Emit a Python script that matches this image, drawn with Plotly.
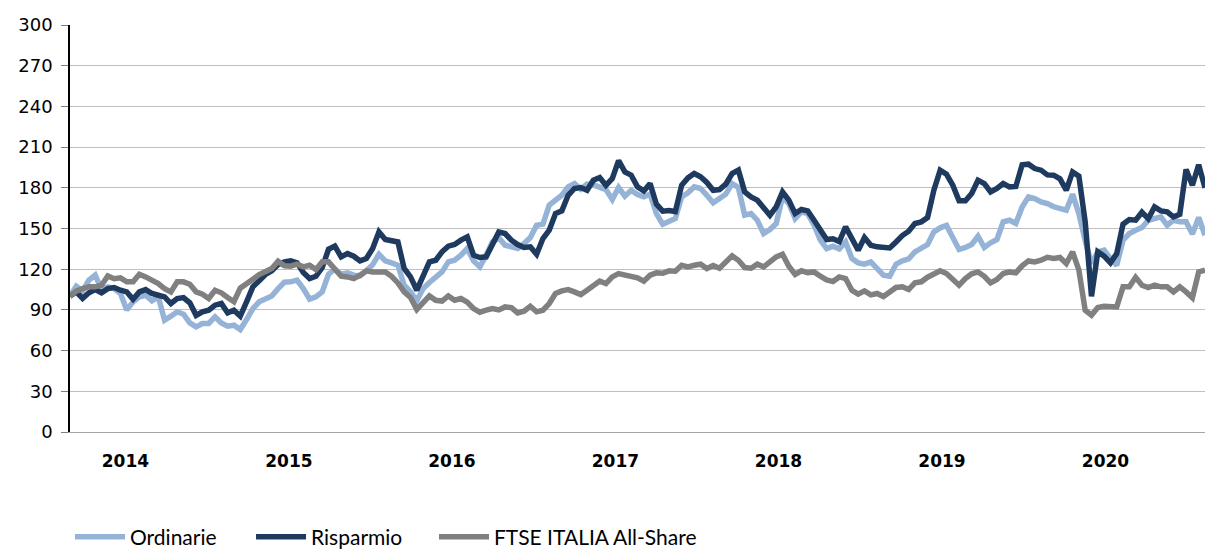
import pandas as pd
import plotly.graph_objects as go

# fortnightly observations, index base 100
dates = pd.date_range("2014-01-03", periods=181, freq="14D")

ordinarie = [
    100, 107.5, 104, 111.9, 115.6, 105, 107, 105.7, 102.1, 90,
    95.9, 99.6, 100.8, 96.7, 99.6, 82.4, 85.4, 88.6, 86.8, 80.4,
    77.5, 80, 80, 84.9, 80.4, 78, 78.7, 75.5, 82.9, 91,
    96, 98.4, 100.3, 105.7, 110.4, 110.7, 111.9, 105.7, 97.9, 99.6,
    103.3, 116.3, 120, 116.3, 117.3, 115.6, 115.1, 118.8, 123.4, 131,
    126.1, 124.7, 122.9, 108.2, 103.3, 96.7, 105.7, 110.2, 113.9, 118,
    125.4, 126.6, 130.3, 135.2, 126.1, 121.7, 130.3, 140.1, 143.3, 137.7,
    136.5, 135.2, 138.9, 143.3, 152.4, 153.2, 167.2, 170.9, 174.5, 180.7,
    183.1, 179, 182.7, 182.2, 180.7, 178.7, 171.4, 180.2, 173.8, 178.2,
    175, 173.3, 175.3, 161, 153.2, 155.1, 157.3, 173.3, 176.3, 180.7,
    179.5, 174.5, 168.9, 172.1, 175.3, 183.1, 180.2, 159.8, 161, 156.1,
    146.3, 149.2, 153.7, 173.3, 168.4, 157.3, 162.3, 161, 152.4, 141.4,
    135.2, 137, 135, 140.1, 127.9, 124.7, 123.7, 125.4, 120.5, 115.6,
    114.8, 123.7, 126.1, 127.6, 132.8, 136, 138.2, 147.5, 150.5, 152.2,
    143.8, 134.5, 136, 138.2, 144.3, 136, 139.4, 141.9, 154.9, 156.1,
    153.7, 165.9, 173.3, 172.1, 169.6, 168.4, 166, 164.7, 163.5, 175.3,
    161, 140.9, 124.2, 132.8, 134, 127.9, 122.9, 141.4, 146.3, 148.7,
    150.7, 156.1, 157.3, 158.6, 152.4, 156.1, 155, 155, 146, 158.1,
    145,
]

risparmio = [
    100, 103.3, 98.4, 102.6, 105, 102.6, 105.7, 106.5, 104.5, 103.3,
    97.9, 103.3, 105, 102.1, 100.8, 99.6, 94.7, 98.4, 99.1, 95.2,
    86, 88.6, 89.8, 93.5, 94.7, 87.8, 89.8, 85.4, 95.9, 107,
    111.5, 116.1, 118.8, 123.4, 125.4, 126.1, 124.7, 117.5, 113.1, 114.8,
    121.2, 134.7, 137, 129.1, 131.5, 129.6, 126.1, 127.9, 135.2, 147.5,
    141.9, 140.9, 140.1, 120.5, 114.3, 104.5, 116.3, 125.4, 126.6, 132.8,
    137, 138.2, 141.4, 143.8, 130.3, 128.6, 129.1, 137.7, 147.5, 146.3,
    141.4, 138.2, 136, 136.5, 131, 142.6, 148.7, 161, 163, 174.5,
    179.5, 180.2, 178.2, 185.6, 187.6, 181.9, 186.8, 200, 191.7, 189.3,
    180.7, 177.7, 183.1, 167.9, 162.8, 163.2, 162.5, 181.9, 187.3, 190.5,
    188.1, 183.9, 178.2, 178.7, 182.7, 190.5, 193, 177, 173.3, 170.9,
    165.9, 159.8, 166, 177, 170.9, 161, 164, 163, 156.1, 148.7,
    141.9, 142.4, 140.4, 151.2, 141.9, 134, 143.3, 137.7, 136.5, 136,
    135.7, 140.1, 144.8, 148, 153.7, 154.9, 158.1, 178.2, 193, 190,
    181.9, 170.4, 170.4, 175.8, 185.6, 183.1, 177, 179.5, 183.1, 180.7,
    181, 197, 197.4, 194.2, 193, 189.5, 189.3, 186.6, 178.2, 191.7,
    188.6, 154.9, 100, 132.8, 129.6, 124.7, 131.5, 153.2, 156.6, 156.1,
    162, 157.3, 165.9, 163, 162.3, 158.6, 160.5, 193.5, 181.9, 197,
    180,
]

ftse = [
    100, 103.8, 105.7, 107, 107, 108.2, 115, 113, 113.6, 110.7,
    110.7, 116.3, 114.3, 111.9, 109.4, 105.7, 103.3, 110.7, 110.7, 108.9,
    103.3, 101.6, 98.4, 104.5, 102.6, 99.1, 96, 106, 108.9, 112.6,
    116, 118.5, 120.5, 125.9, 122.5, 122.2, 123.7, 121.7, 122.9, 119.8,
    125.4, 125.4, 120.5, 114.8, 114.3, 113.1, 115.6, 118.8, 118, 118,
    118, 114.8, 109.9, 103.3, 99.1, 90.3, 95.9, 100.3, 97.1, 96.5,
    100.3, 97.1, 98.4, 95.7, 91, 88.3, 89.8, 91, 90, 92.2,
    91.7, 87.8, 89, 92.7, 88.6, 89.8, 94.7, 102.1, 104, 105,
    103.3, 101.3, 104.5, 108.2, 111.2, 109.4, 114.3, 116.8, 115.6, 114.3,
    113.6, 111.2, 115.6, 117.3, 117, 118.8, 118.5, 122.9, 121.7, 122.9,
    123.7, 120.5, 122.7, 120.7, 125.4, 129.8, 126.6, 121.2, 120.7, 123.7,
    121.7, 125.4, 129.1, 131, 122.2, 116.1, 118.8, 117.5, 118, 114.8,
    112.1, 110.9, 114.3, 113.1, 104.5, 101.6, 104, 101.1, 102.1, 99.9,
    102.8, 106.5, 107, 105, 109.9, 110.7, 114.1, 117, 118.8, 116.8,
    112.4, 108.2, 113.1, 116.6, 118, 114.8, 109.9, 112.4, 116.8, 118,
    117.3, 122.5, 126.1, 125.4, 126.6, 128.8, 127.9, 128.6, 124.2, 132.8,
    119.3, 89.8, 86.1, 91.7, 92.7, 92.7, 92.2, 107, 107, 114,
    108.2, 106.5, 108.2, 107, 107, 103.3, 107, 103.3, 99, 118,
    119.3,
]

year_ticks = ["2014-05-06", "2015-05-04", "2016-04-30", "2017-04-28",
              "2018-04-25", "2019-04-23", "2020-04-20"]
year_labels = ["2014", "2015", "2016", "2017", "2018", "2019", "2020"]
y_ticks = list(range(0, 301, 30))

series = [
    ("Ordinarie", ordinarie, "#95B3D7", "legend", 0.0),
    ("Risparmio", risparmio, "#1F3A5F", "legend2", 0.1595),
    ("FTSE ITALIA All-Share", ftse, "#808080", "legend3", 0.3207),
]

fig = go.Figure()
legend_cfg = {}
for name, vals, color, leg, lx in series:
    fig.add_trace(go.Scatter(x=dates, y=vals, name=name, mode="lines",
                             line=dict(color=color, width=5.5), legend=leg))
    legend_cfg[leg] = dict(orientation="h", x=lx, xanchor="left", y=-0.208,
                           yanchor="top", itemwidth=50,
                           font=dict(family="Lato", size=21, color="#000000"),
                           bgcolor="rgba(0,0,0,0)")

fig.update_layout(
    width=1205, height=552,
    margin=dict(l=70, r=0, t=25, b=120, autoexpand=False),
    plot_bgcolor="white", paper_bgcolor="white",
    showlegend=True,
    **legend_cfg,
    xaxis=dict(
        range=[dates[0], dates[-1]],
        tickmode="array", tickvals=year_ticks, ticktext=year_labels,
        tickfont=dict(family="DejaVu Sans", size=17, color="#000000", weight="bold"),
        showgrid=False, showline=True, linecolor="#A6A6A6", linewidth=1,
        ticks="", zeroline=False, ticklabelstandoff=14,
    ),
    yaxis=dict(
        range=[0, 300], tickmode="array", tickvals=y_ticks,
        tickfont=dict(family="DejaVu Sans", size=18, color="#000000"),
        showgrid=True, gridcolor="#BFBFBF", gridwidth=1,
        showline=True, linecolor="#000000", linewidth=1.5,
        ticks="outside", ticklen=7, tickcolor="#7F7F7F", zeroline=False,
        ticklabelstandoff=5,
    ),
)

fig.write_html(
    "out.html",
    config={"displayModeBar": False},
    post_script="document.body.style.margin='0px';document.body.style.overflow='hidden';",
)
